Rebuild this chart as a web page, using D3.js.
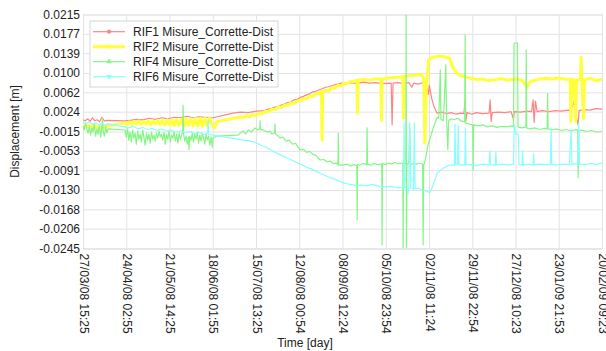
<!DOCTYPE html>
<html>
<head>
<meta charset="utf-8">
<script src="https://cdn.jsdelivr.net/npm/d3@7"></script>
<style>
  body { margin: 0; background: #fff; }
  text { font-family: "Liberation Sans", Arial, sans-serif; }
</style>
</head>
<body>
<div id="chart"></div>
<script>
const width = 606;
const height = 351;

// x tick labels (time axis)
const xTickLabels = ["27/03/08 15:25", "24/04/08 02:55", "21/05/08 14:25", "18/06/08 01:55",
  "15/07/08 13:25", "12/08/08 00:54", "08/09/08 12:24", "05/10/08 23:54", "02/11/08 11:24",
  "29/11/08 22:54", "27/12/08 10:23", "23/01/09 21:53", "20/02/09 09:23"];

const yTicks = [0.0215, 0.0177, 0.0139, 0.0100, 0.0062, 0.0024, -0.0015, -0.0053,
  -0.0091, -0.0130, -0.0168, -0.0206, -0.0245];

const seriesNames = ["RIF1 Misure_Corrette-Dist", "RIF2 Misure_Corrette-Dist",
  "RIF4 Misure_Corrette-Dist", "RIF6 Misure_Corrette-Dist"];

// [day since first tick, displacement m]
const rif1 = [[0,0.0008],[1.5,0.0006],[3,0.0010],[4.5,0.0005],[6,0.0012],[7.5,0.0006],[9,0.0008],[10.5,0.0004],[12,0.0013],[13.5,0.0006],[15.9,0.0007],
  [26.7,0.0006],[30,0.0007],[34,0.0009],[38,0.0008],[42,0.0011],[46,0.0009],[50,0.0012],[54,0.0010],[58,0.0013],[62,0.0012],[66,0.0015],[70,0.0012],[74,0.0014],[78,0.0013],[82.6,0.0012],
  [95.3,0.0021],[100,0.0023],[105,0.0022],[110,0.0025],[115,0.0026],[118,0.0029],[120,0.0030],[122,0.0033],[124,0.0034],[126,0.0037],[128,0.0039],[130,0.0042],[132,0.0043],[134,0.0047],[136,0.0048],[138,0.0052],[140,0.0054],[142,0.0057],[144,0.0059],[146,0.0063],[148,0.0064],[150,0.0067],[152,0.0069],[154,0.0072],[156,0.0073],[158,0.0075],[160,0.0077],[162,0.0078],[164,0.0080],[166,0.0080],
  [170,0.0081],[174,0.0079],[178,0.0082],[182,0.0080],[186,0.0081],[190,0.0079],[195.8,0.0080],[196.4,-0.0002],[197,0.0080],[200,0.0081],[204,0.0079],[207,0.0081],[209,0.0072],[210,0.0080],[213,0.0078],[216,0.0081],[218,0.0080],[219.5,0.0058],[220,0.0076],[221.5,0.0050],[223,0.0034],[225,0.0021],
  [228,0.0023],[231,0.0020],[234,0.0022],[237,0.0019],[240,0.0021],[242,0.0020],[242.8,0.0047],[243.3,0.0007],[244,0.0022],[247,0.0019],[250,0.0022],[254,0.0020],[258,0.0021],[258.7,0.0047],[259.3,0.0005],[260,0.0022],[264,0.0023],[268,0.0022],[272,0.0024],[273.5,0.0009],[274,0.0024],[278,0.0023],[282,0.0025],[285,0.0024],[286,0.0047],[286.6,0.0003],[287.5,0.0045],[288.5,0.0024],[292,0.0026],[296,0.0024],[300,0.0026],[304,0.0025],[308,0.0027],[310,0.0026],[312,0.0044],[312.6,0.0024],[314.6,-0.0002],[315.2,0.0026],[318,0.0028],[322,0.0027],[326,0.0030],[329.9,0.0029]];

const rif2 = [[0,-0.0002],[2,-0.0006],[4,-0.0003],[6,-0.0007],[8,-0.0004],[10,-0.0008],[12,-0.0005],[14,-0.0006],[15.9,-0.0004],
  [26.7,0.0002],[28,-0.0002],[29.5,0.0004],[31,-0.0001],[32.5,0.0005],[34,0.0000],[35.5,0.0006],[37,-0.0001],[38.5,0.0005],[40,0.0000],[41.5,0.0006],[43,-0.0002],[44.5,0.0006],[46,0.0000],[47.5,0.0007],[49,-0.0001],[50.5,0.0007],[52,-0.0002],[53.5,0.0008],[55,-0.0002],[56.5,0.0008],[58,-0.0003],[59.5,0.0009],[61,-0.0003],[62.5,0.0009],[64,-0.0004],[65.5,0.0010],[67,-0.0003],[68.5,0.0010],[70,-0.0004],[71.5,0.0011],[73,-0.0004],[74.5,0.0011],[76,-0.0005],[77.5,0.0012],[79,-0.0004],[80.5,0.0012],[82,-0.0002],[83.5,-0.0008],[85,0.0004],
  [95.3,0.0011],[98,0.0012],[100,0.0014],[102,0.0012],[104,0.0016],[106,0.0014],[108,0.0018],[110,0.0017],[112,0.0021],[114,0.0020],[116,0.0025],[118,0.0024],[120,0.0029],[122,0.0028],[124,0.0033],[126,0.0032],[128,0.0037],[130,0.0036],[132,0.0041],[134,0.0040],[136,0.0045],[138,0.0045],[140,0.0050],[142,0.0049],[144,0.0055],[146,0.0054],[148,0.0060],[150,0.0059],[151.5,0.0064],[151.9,-0.0032],[152.3,0.0063],[154,0.0066],[156,0.0065],[158,0.0071],[160,0.0070],[162,0.0076],[164,0.0075],[166,0.0080],[168,0.0079],[170,0.0084],[172,0.0083],
  [174,0.0086],[174.4,0.0021],[174.8,0.0086],[178,0.0087],[182,0.0086],[186,0.0089],[189.2,0.0088],[189.6,0.0006],[190,0.0088],[194,0.0090],[198,0.0091],[202,0.0092],[203.2,0.0093],[203.6,0.0011],[204,0.0093],[208,0.0095],[212,0.0096],[215,0.0097],[216.5,0.0090],[217.2,-0.0038],[218,0.0060],[219.5,0.0125],[222,0.0131],[226,0.0133],[230,0.0132],[233,0.0129],[235,0.0110],[238,0.0098],[242,0.0093],[246,0.0090],[250,0.0087],[254,0.0088],[258,0.0085],[262,0.0087],[266,0.0089],[270,0.0086],[274,0.0088],[278,0.0087],[280,0.0082],[282,0.0072],[284,0.0082],[286,0.0085],[290,0.0088],[294,0.0089],[298,0.0088],[302,0.0090],[306,0.0088],[309.5,0.0087],[310,0.0004],[310.6,0.0088],[312,0.0087],[313,0.0005],[313.6,0.0086],[316,0.0087],[316.5,0.0131],[317,0.0085],[318,0.0010],[318.6,0.0086],[322,0.0090],[326,0.0085],[329.9,0.0088]];

const rif4 = [[0,-0.0004],[0.8,-0.0012],[1.6,0.0002],[2.4,-0.0010],[3.2,-0.0018],[4,-0.0006],[4.8,-0.0022],[5.6,-0.0008],[6.4,-0.0016],[7.2,0.0000],[8,-0.0024],[8.8,-0.0010],[9.6,-0.0020],[10.4,-0.0004],[11.2,-0.0026],[12,-0.0008],[12.4,0.0012],[12.8,-0.0014],[13.6,-0.0024],[14.4,-0.0006],[15.2,-0.0018],[15.9,-0.0010],
  [26.7,-0.0012],[27.5,-0.0026],[28.3,-0.0010],[29.1,-0.0032],[29.9,-0.0016],[30.7,-0.0036],[31.5,-0.0012],[32.3,-0.0028],[33.1,-0.0018],[33.9,-0.0040],[34.7,-0.0014],[35.5,-0.0030],[36.3,-0.0020],[37.1,-0.0036],[37.9,-0.0012],[38.7,-0.0026],[39.5,-0.0042],[40.3,-0.0018],[41.1,-0.0032],[41.9,-0.0020],[42.7,-0.0038],[43.5,-0.0016],[44.3,-0.0030],[45.1,-0.0022],[45.9,-0.0034],[46.7,-0.0018],[47.5,-0.0028],[48.3,-0.0014],[49.1,-0.0026],[49.9,-0.0020],[50.7,-0.0032],[51.5,-0.0016],[52.3,-0.0040],[53.1,-0.0020],[53.9,-0.0030],[54.7,-0.0014],[55.5,-0.0036],[56.3,-0.0022],[57.1,-0.0028],[57.9,-0.0016],[58.7,-0.0034],[59.5,-0.0020],[60.3,-0.0038],[61.1,-0.0018],[61.9,-0.0030],[62.7,-0.0022],[63.3,-0.0016],[63.6,0.0037],[63.9,-0.0020],[64.7,-0.0034],[65.5,-0.0024],[66.3,-0.0040],[67.0,-0.0026],[67.4,-0.0051],[67.8,-0.0024],[68.6,-0.0032],[69.4,-0.0018],[70.2,-0.0036],[71,-0.0020],[71.8,-0.0030],[72.6,-0.0016],[73.4,-0.0038],[74.2,-0.0022],[75,-0.0034],[75.8,-0.0018],[76.6,-0.0028],[77.4,-0.0040],[78.2,-0.0020],[79,-0.0032],[79.8,-0.0024],[80.6,-0.0042],[81.4,-0.0026],[82.2,-0.0046],[82.6,-0.0028],
  [85,-0.0024],[98.5,-0.0022],[100,-0.0018],[101.7,-0.0014],[103.5,-0.0020],[105,-0.0012],[107,-0.0016],[109.3,-0.0008],[111,-0.0012],[112.3,-0.0010],[112.5,0.0006],[112.8,-0.0012],[114.4,-0.0012],[117,-0.0016],[119,-0.0014],[120,-0.0020],[121.8,-0.0018],[122,0.0000],[122.3,-0.0020],[124,-0.0024],[125.2,-0.0028],[127,-0.0026],[129,-0.0034],[131,-0.0032],[133,-0.0040],[135,-0.0038],[137.9,-0.0051],[140,-0.0050],[142,-0.0056],[144,-0.0054],[146,-0.0060],[148,-0.0062],[150.6,-0.0071],[153,-0.0070],[155,-0.0075],[157,-0.0073],[159,-0.0078],[161,-0.0077],[162,-0.0080],[162.2,-0.0018],[162.5,-0.0081],[165.3,-0.0081],
  [168,-0.0079],[170,-0.0083],[172,-0.0080],[174,-0.0082],[174.2,-0.0189],[174.5,-0.0080],[176,-0.0081],[178,-0.0078],[180.3,-0.0080],[180.5,-0.0008],[180.8,-0.0079],[183,-0.0081],[185,-0.0078],[187,-0.0080],[189.8,-0.0079],[190,-0.0238],[190.3,-0.0078],[192,-0.0080],[194,-0.0077],[196,-0.0079],[198,-0.0076],[200,-0.0078],[202,-0.0077],[203.2,-0.0078],[203.4,-0.0244],[203.7,-0.0077],[205.1,-0.0079],[205.3,0.0214],[205.5,-0.0244],[205.8,-0.0079],[207,-0.0078],[207.6,-0.0007],[208,-0.0080],[210,-0.0078],[212,-0.0079],[214,-0.0077],[215.8,-0.0080],[216.1,-0.0238],[216.5,-0.0081],[217.5,-0.0070],[219.3,-0.0040],[220.6,-0.0028],[222.5,-0.0008],[225,0.0013],
  [226,0.0011],[227,0.0106],[227.4,0.0009],[229,0.0006],[230.5,0.0116],[231,0.0008],[231.8,-0.0051],[232.3,0.0006],[234,0.0010],[236,0.0008],[238,0.0011],[240,0.0006],[242.5,0.0004],[242.8,0.0175],[243.1,0.0002],[245,0.0000],[247.6,-0.0002],[247.9,-0.0091],[248.2,-0.0002],[251,-0.0004],[254,-0.0002],[257,-0.0006],[260,-0.0004],[263,-0.0007],[266,-0.0005],[269,-0.0006],[272,-0.0004],[273.5,-0.0006],[273.9,0.0159],[276,0.0159],[276.4,-0.0006],[279,-0.0008],[281.4,-0.0006],[281.6,0.0145],[281.9,-0.0008],[284,-0.0010],[287,-0.0008],[290,-0.0011],[293,-0.0009],[294.9,-0.0010],[295.2,0.0060],[295.5,-0.0010],[298,-0.0012],[301,-0.0010],[304,-0.0013],[307,-0.0011],[310,-0.0014],[312,-0.0012],[314.4,-0.0012],[314.6,-0.0106],[314.9,-0.0014],[317,-0.0012],[320,-0.0015],[323,-0.0013],[326,-0.0016],[329.9,-0.0015]];

const rif6 = [[0,0.0003],[2,0.0000],[4,0.0004],[6,-0.0001],[8,0.0002],[10,-0.0002],[12,0.0001],[14,-0.0003],[15.9,0.0000],
  [26.7,-0.0006],[29,-0.0008],[32,-0.0005],[35,-0.0010],[38,-0.0007],[41,-0.0011],[44,-0.0009],[47,-0.0013],[50,-0.0010],[53,-0.0014],[56,-0.0012],[59,-0.0016],[62,-0.0014],[65,-0.0018],[68,-0.0015],[71,-0.0019],[74,-0.0017],[77,-0.0021],[79.2,-0.0018],[79.5,0.0008],[79.8,-0.0020],[82.6,-0.0022],
  [90,-0.0026],[98.5,-0.0030],[101.7,-0.0032],[105,-0.0033],[109.3,-0.0036],[113,-0.0042],[117,-0.0047],[121,-0.0054],[125.2,-0.0061],[129,-0.0066],[133,-0.0072],[137.9,-0.0079],[142,-0.0085],[146,-0.0090],[150.6,-0.0097],[155,-0.0103],[160,-0.0109],[165.3,-0.0116],
  [168,-0.0118],[172,-0.0120],[174,-0.0123],[176,-0.0120],[180,-0.0122],[184,-0.0119],[188,-0.0123],[192,-0.0124],[196,-0.0123],[200,-0.0126],[203,-0.0125],[203.6,-0.0126],[204,0.0002],[204.4,-0.0125],[206,-0.0128],[206.5,-0.0139],[207,-0.0124],[207.6,0.0002],[208.2,-0.0126],[210,-0.0128],[210.5,0.0002],[211,-0.0128],[213,-0.0126],[215,-0.0130],[217,-0.0131],[219.3,-0.0134],[220.6,-0.0134],[222.5,-0.0120],[225,-0.0097],[228,-0.0089],[230.1,-0.0085],[233,-0.0081],
  [236,-0.0081],[236.4,-0.0001],[236.8,-0.0080],[238,-0.0079],[238.4,-0.0003],[238.8,-0.0080],[241,-0.0081],[242.6,-0.0080],[243,-0.0008],[243.4,-0.0081],[246,-0.0080],[250,-0.0082],[254,-0.0079],[258,-0.0081],[258.5,-0.0053],[259,-0.0080],[262,-0.0081],[262.3,-0.0055],[262.7,-0.0080],[266,-0.0079],[270,-0.0081],[273.5,-0.0079],[274,-0.0002],[275,-0.0020],[276.5,-0.0020],[277,-0.0080],[279,-0.0081],[279.3,-0.0053],[279.7,-0.0081],[283,-0.0079],[286,-0.0081],[286.3,-0.0059],[286.7,-0.0080],[290,-0.0079],[294,-0.0080],[297,-0.0079],[297.4,-0.0008],[297.8,-0.0079],[301,-0.0081],[305,-0.0079],[309,-0.0080],[310.2,-0.0012],[310.6,-0.0080],[313,-0.0078],[314.4,-0.0080],[315,0.0002],[315.5,-0.0079],[319,-0.0080],[323,-0.0078],[326,-0.0080],[329.9,-0.0077]];

const margin = {top: 14.5, right: 4, bottom: 102.5, left: 83};
const innerW = width - margin.left - margin.right;
const innerH = height - margin.top - margin.bottom;

const parseTime = d3.timeParse("%d/%m/%y %H:%M");
const fmtTime = d3.timeFormat("%d/%m/%y %H:%M");
const xTickDates = xTickLabels.map(parseTime);
const t0 = xTickDates[0];
const toDate = d => new Date(t0.getTime() + d * 864e5);

const x = d3.scaleTime()
  .domain([xTickDates[0], xTickDates[xTickDates.length - 1]])
  .range([0, innerW]);

const y = d3.scaleLinear()
  .domain([-0.0245, 0.0215])
  .range([innerH, 0]);

const svg = d3.select("#chart")
  .append("svg")
  .attr("width", width)
  .attr("height", height);

const g = svg.append("g")
  .attr("transform", `translate(${margin.left},${margin.top})`);

// y axis + horizontal grid
const yAxis = g.append("g")
  .call(d3.axisLeft(y).tickValues(yTicks).tickSize(-innerW).tickPadding(3)
    .tickFormat(d => d.toFixed(4)));
yAxis.selectAll("line").attr("stroke", "#e3e3e3");
yAxis.select(".domain").attr("stroke", "#e3e3e3");
yAxis.selectAll("text").attr("font-size", 12).attr("fill", "#222")
  .attr("font-family", "'Liberation Sans', Arial, sans-serif");

// x axis + vertical grid
const xAxis = g.append("g")
  .attr("transform", `translate(0,${innerH})`)
  .call(d3.axisBottom(x).tickValues(xTickDates).tickSize(-innerH).tickFormat(fmtTime));
xAxis.selectAll("line").attr("stroke", "#e3e3e3");
xAxis.select(".domain").attr("stroke", "#e3e3e3");
xAxis.selectAll("text")
  .attr("font-size", 12).attr("fill", "#222")
  .attr("font-family", "'Liberation Sans', Arial, sans-serif")
  .attr("text-anchor", "start")
  .attr("transform", "rotate(90)")
  .attr("x", 5).attr("y", 0).attr("dy", "0.32em");

// lines
g.append("clipPath").attr("id", "clip")
  .append("rect").attr("width", innerW).attr("height", innerH);

const line = d3.line()
  .x(d => x(toDate(d[0])))
  .y(d => y(d[1]));

const series = [
  {name: seriesNames[0], data: rif1, color: "#ff8585", width: 1.2, symbol: d3.symbolCircle},
  {name: seriesNames[1], data: rif2, color: "#ffff3a", width: 3, symbol: d3.symbolSquare},
  {name: seriesNames[2], data: rif4, color: "#85f585", width: 1.2, symbol: d3.symbolTriangle},
  {name: seriesNames[3], data: rif6, color: "#85ffff", width: 1.2, symbol: d3.symbolTriangle}
];

g.append("g").attr("clip-path", "url(#clip)")
  .selectAll("path")
  .data(series)
  .join("path")
  .attr("fill", "none")
  .attr("stroke", d => d.color)
  .attr("stroke-width", d => d.width)
  .attr("stroke-linejoin", "round")
  .attr("d", d => line(d.data));

// legend
const legend = svg.append("g").attr("transform", "translate(90,21)");
legend.append("rect")
  .attr("width", 188).attr("height", 66)
  .attr("fill", "#fff").attr("stroke", "#d6d6d6");

const item = legend.selectAll(".item")
  .data(series)
  .join("g")
  .attr("transform", (d, i) => `translate(0,${10.7 + i * 15})`);
item.append("line")
  .attr("x1", 3).attr("x2", 35)
  .attr("stroke", d => d.color)
  .attr("stroke-width", d => d.width);
item.append("path")
  .attr("transform", (d, i) => `translate(19,0)${i === 3 ? " rotate(180)" : ""}`)
  .attr("d", d => d3.symbol().type(d.symbol).size(14)())
  .attr("fill", d => d.color);
item.append("text")
  .attr("x", 43).attr("dy", "0.35em")
  .attr("font-size", 12).attr("fill", "#222")
  .text(d => d.name);

// axis titles
svg.append("text")
  .attr("transform", `translate(19,${margin.top + innerH / 2}) rotate(-90)`)
  .attr("text-anchor", "middle")
  .attr("font-size", 12).attr("fill", "#222")
  .text("Displacement [m]");

svg.append("text")
  .attr("x", 305).attr("y", 347)
  .attr("text-anchor", "middle")
  .attr("font-size", 12).attr("fill", "#222")
  .text("Time [day]");
</script>
</body>
</html>
